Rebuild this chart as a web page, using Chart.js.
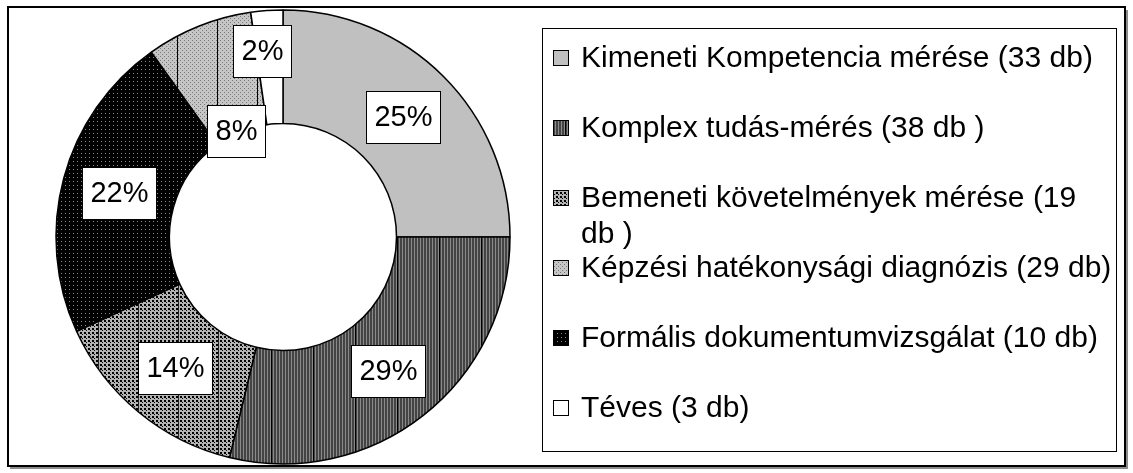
<!DOCTYPE html>
<html>
<head>
<meta charset="utf-8">
<script src="https://cdn.jsdelivr.net/npm/chart.js@4.4.0/dist/chart.umd.min.js"></script>
<style>
html,body{margin:0;padding:0;background:#fff;}
#wrap{position:relative;width:1133px;height:473px;}
</style>
</head>
<body>
<div id="wrap"><canvas id="donut"></canvas></div>
<script>
// data
const categories = [
  'Kimeneti Kompetencia mérése (33 db)',
  'Komplex tudás-mérés (38 db )',
  ['Bemeneti követelmények mérése (19', 'db )'],
  'Képzési hatékonysági diagnózis (29 db)',
  'Formális dokumentumvizsgálat (10 db)',
  'Téves (3 db)'
];
const counts = [33, 38, 19, 29, 10, 3];

const FONT = '"Liberation Sans", Arial, sans-serif';

// pattern tiles (Excel style b/w fills)
function tile(w, h, draw){
  const c = document.createElement('canvas');
  c.width = w; c.height = h;
  const g = c.getContext('2d');
  draw(g);
  return g.createPattern(c, 'repeat');
}
const stripes = tile(42, 4, g=>{
  g.fillStyle='#444'; g.fillRect(0,0,42,4);
  g.fillStyle='#8a8a8a';
  for(let x=0;x<42;x+=3) g.fillRect(x,0,1,4);
  g.fillStyle='#000'; g.fillRect(19,0,1,4);
});
const checker = tile(40, 4, g=>{
  g.fillStyle='#b4b4b4'; g.fillRect(0,0,40,4);
  g.fillStyle='#000';
  for(let x=0;x<40;x+=4){ g.fillRect(x,0,2,2); g.fillRect(x+2,2,1,1); }
  g.fillStyle='#222'; g.fillRect(18,0,1,4);
});
const blackDots = tile(4, 4, g=>{
  g.fillStyle='#000'; g.fillRect(0,0,4,4);
  g.fillStyle='#8a8a8a'; g.fillRect(1,1,1,1);
});
const lightDots = tile(40, 4, g=>{
  g.fillStyle='#c6c6c6'; g.fillRect(0,0,40,4);
  g.fillStyle='#777';
  for(let x=0;x<40;x+=4){ g.fillRect(x,0,1,1); g.fillRect(x+2,2,1,1); }
  g.fillStyle='#000'; g.fillRect(17,0,1,4);
});

const sliceFills = ['#c0c0c0', stripes, checker, blackDots, lightDots, '#ffffff'];
// legend swatches as they appear in the original legend
const legendFills = ['#c0c0c0', stripes, checker, lightDots, blackDots, '#ffffff'];

const pctLabels = {
  id: 'pctLabels',
  afterDatasetsDraw(chart, args, opts){
    const ctx = chart.ctx;
    const meta = chart.getDatasetMeta(0);
    const total = counts.reduce((a,b)=>a+b,0);
    ctx.save();
    ctx.font = '29px ' + FONT;
    ctx.textAlign = 'center';
    ctx.textBaseline = 'middle';
    meta.data.forEach((arc, i)=>{
      const p = arc.getCenterPoint();
      const n = opts.nudge[i] || [0,0];
      const x = p.x + n[0], y = p.y + n[1];
      const txt = Math.round(counts[i]/total*100) + '%';
      const w = Math.round(ctx.measureText(txt).width + 16), h = 52;
      const bx = Math.round(x - w/2), by = Math.round(y - h/2);
      ctx.fillStyle = '#fff';
      ctx.fillRect(bx, by, w, h);
      ctx.strokeStyle = '#000'; ctx.lineWidth = 1;
      ctx.strokeRect(bx+0.5, by+0.5, w, h);
      ctx.fillStyle = '#000';
      ctx.fillText(txt, bx + w/2 + 0.5, by + h/2 + 1);
    });
    ctx.restore();
  }
};

const boxLegend = {
  id: 'boxLegend',
  afterDraw(chart, args, opts){
    const ctx = chart.ctx;
    ctx.save();
    // chart frame with shadow
    ctx.fillStyle = '#8c8c8c';
    ctx.fillRect(10, 467, 1117, 2);
    ctx.fillRect(1126, 10, 2, 459);
    ctx.strokeStyle = '#000'; ctx.lineWidth = 2;
    ctx.strokeRect(8, 7, 1117, 459);
    // legend box
    const b = opts.box;
    ctx.lineWidth = 1;
    ctx.strokeRect(b.x+0.5, b.y+0.5, b.w, b.h);
    ctx.font = '30px ' + FONT;
    ctx.textBaseline = 'middle';
    ctx.textAlign = 'left';
    chart.data.labels.forEach((lab, i)=>{
      const y = opts.firstY + i*opts.step;
      ctx.fillStyle = legendFills[i];
      ctx.fillRect(b.x+11, y-8, 16, 16);
      ctx.strokeStyle = '#000';
      ctx.strokeRect(b.x+11.5, y-7.5, 15, 15);
      ctx.fillStyle = '#000';
      const lines = Array.isArray(lab) ? lab : [lab];
      lines.forEach((t, k)=> ctx.fillText(t, b.x+39, y + 1 + k*36));
    });
    ctx.restore();
  }
};

new Chart(document.getElementById('donut'), {
  type: 'doughnut',
  data: {
    labels: categories,
    datasets: [{
      data: counts,
      backgroundColor: sliceFills,
      borderColor: '#000',
      borderWidth: 1.5
    }]
  },
  options: {
    responsive: true,
    maintainAspectRatio: false,
    animation: false,
    radius: 227,
    cutout: '50%',
    layout: {padding: {left: 0, right: 567, top: 1, bottom: 0}},
    plugins: {
      legend: {display: false},
      tooltip: {enabled: false},
      pctLabels: {nudge: {4: [16, 52], 5: [-9, -16]}},
      boxLegend: {box: {x: 542, y: 28, w: 574, h: 423}, firstY: 58, step: 70}
    }
  },
  plugins: [pctLabels, boxLegend]
});
</script>
</body>
</html>
